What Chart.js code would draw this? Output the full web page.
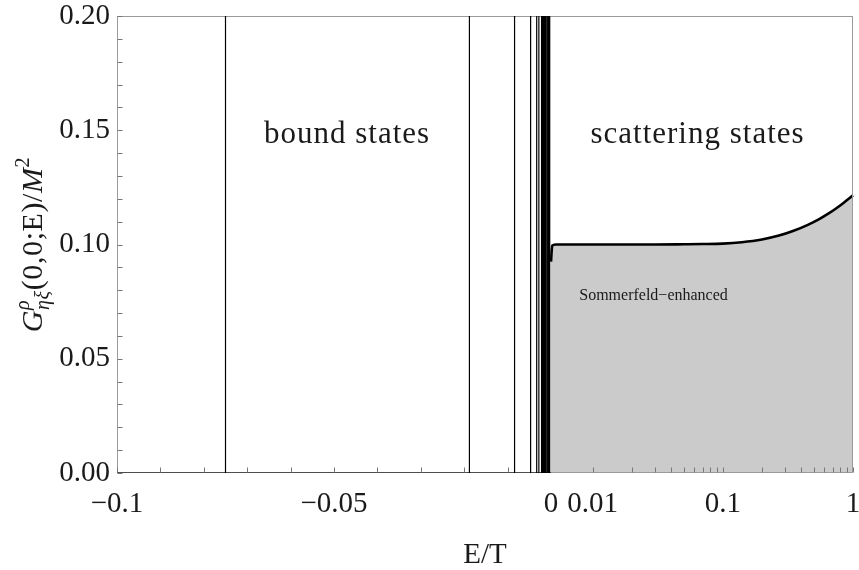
<!DOCTYPE html>
<html><head><meta charset="utf-8">
<script src="https://cdn.jsdelivr.net/npm/chart.js@4.4.1/dist/chart.umd.min.js"></script>
<style>html,body{margin:0;padding:0;background:#fff;}canvas{display:block;}</style>
</head><body>
<canvas id="chart" width="859" height="570"></canvas>
<script>
// ---------------- data ----------------
const boundStateE = [-0.075, -0.0188, -0.0084, -0.0047, -0.0033, -0.0028, -0.0023, -0.0021, -0.0019,
                     -0.0017, -0.0015, -0.0013, -0.0011, -0.0009, -0.0007, -0.0005, -0.0003];
const sommerfeldE = [0.0048, 0.0049, 0.0052, 0.006, 0.008, 0.01, 0.015, 0.02, 0.03, 0.05, 0.07, 0.1,
                     0.14, 0.2, 0.27, 0.35, 0.45, 0.55, 0.65, 0.75, 0.85, 1.0];
const sommerfeldG = [0.0925, 0.0995, 0.1, 0.1, 0.1, 0.1, 0.1, 0.1, 0.1, 0.1001, 0.1002, 0.1004,
                     0.101, 0.1022, 0.1039, 0.106, 0.1086, 0.1111, 0.1136, 0.116, 0.1183, 0.1215];
const xTickValues = [-0.1, -0.09, -0.08, -0.07, -0.06, -0.05, -0.04, -0.03, -0.02, -0.01, 0,
                     0.01, 0.02, 0.03, 0.04, 0.05, 0.06, 0.07, 0.08, 0.09,
                     0.1, 0.2, 0.3, 0.4, 0.5, 0.6, 0.7, 0.8, 0.9, 1];
const xLabelValues = [-0.1, -0.05, 0, 0.01, 0.1, 1];
const xLabelTexts = ['\u22120.1', '\u22120.05', '0', '0.01', '0.1', '1'];
const yTickValues = [0, 0.01, 0.02, 0.03, 0.04, 0.05, 0.06, 0.07, 0.08, 0.09, 0.1,
                     0.11, 0.12, 0.13, 0.14, 0.15, 0.16, 0.17, 0.18, 0.19, 0.2];
const yLabelValues = [0, 0.05, 0.1, 0.15, 0.2];
const yLabelTexts = ['0.00', '0.05', '0.10', '0.15', '0.20'];
const regionTexts = ['bound states', 'scattering states', 'Sommerfeld\u2212enhanced'];
const regionE = [-0.047, 0.064, 0.0294];
const regionG = [0.1445, 0.1445, 0.0755];
const xTitle = 'E/T';

// ---------------- split axis: linear for E<=0, log for E>0 ----------------
const X_LIN_MIN = -0.1, X_LOG_MIN = 0.0048, X_LOG_MAX = 1, LIN_SHARE = 0.5897;
function splitDecimal(v) {
  if (v <= 0) return (v - X_LIN_MIN) / (0 - X_LIN_MIN) * LIN_SHARE;
  const lv = Math.max(v, X_LOG_MIN);
  return LIN_SHARE + (Math.log10(lv) - Math.log10(X_LOG_MIN)) /
         (Math.log10(X_LOG_MAX) - Math.log10(X_LOG_MIN)) * (1 - LIN_SHARE);
}
function splitValue(d) {
  if (d <= LIN_SHARE) return X_LIN_MIN + d / LIN_SHARE * (0 - X_LIN_MIN);
  const f = (d - LIN_SHARE) / (1 - LIN_SHARE);
  return Math.pow(10, Math.log10(X_LOG_MIN) + f * (Math.log10(X_LOG_MAX) - Math.log10(X_LOG_MIN)));
}
class SplitScale extends Chart.Scale {
  determineDataLimits() { this.min = X_LIN_MIN; this.max = X_LOG_MAX; }
  buildTicks() { return xTickValues.map(v => ({value: v})); }
  getLabelForValue(v) { return String(v); }
  getPixelForValue(v) { return this.getPixelForDecimal(splitDecimal(v)); }
  getPixelForTick(i) { return this.getPixelForValue(this.ticks[i].value); }
  getValueForPixel(p) { return splitValue(this.getDecimalForPixel(p)); }
}
SplitScale.id = 'split';
SplitScale.defaults = {};
Chart.register(SplitScale);

function lookup(vals, texts, v) {
  const i = vals.findIndex(a => Math.abs(a - v) < 1e-9);
  return i < 0 ? '' : texts[i];
}

// bound-state spectrum: zero line with delta spikes
const boundData = [{x: X_LIN_MIN, y: 0}];
boundStateE.slice().sort((a, b) => a - b).forEach(e => {
  boundData.push({x: e, y: 0}, {x: e, y: 0.2}, {x: e, y: 0});
});
boundData.push({x: 0, y: 0});

const SERIF = '"Liberation Serif", "DejaVu Serif", serif';
const FRAME = '#9a9a9a';

const framePlugin = {
  id: 'frame',
  beforeDatasetsDraw(chart) {
    const {ctx, chartArea: a} = chart;
    ctx.save();
    ctx.strokeStyle = FRAME; ctx.lineWidth = 1;
    ctx.strokeRect(Math.round(a.left) + 0.5, Math.round(a.top) + 0.5,
                   Math.round(a.right) - Math.round(a.left) - 1, Math.round(a.bottom) - Math.round(a.top) - 1);
    ctx.restore();
  },
  afterDatasetsDraw(chart) {
    const {ctx, chartArea: a, scales: {x, y}} = chart;
    ctx.save();
    ctx.strokeStyle = FRAME; ctx.lineWidth = 1;
    const L = Math.round(a.left) + 0.5, R = Math.round(a.right) - 0.5, B = Math.round(a.bottom) - 0.5;
    ctx.beginPath();
    ctx.moveTo(Math.round(x.getPixelForValue(0)), B); ctx.lineTo(R, B);
    ctx.moveTo(R, Math.round(a.top)); ctx.lineTo(R, B);
    ctx.stroke();
    ctx.strokeStyle = '#777';
    ctx.beginPath();
    x.ticks.forEach(t => {
      if (t.value === 0) return;
      const px = Math.round(x.getPixelForValue(t.value)) + 0.5;
      ctx.moveTo(px, B); ctx.lineTo(px, B - 5);
    });
    y.ticks.forEach(t => {
      const py = Math.round(y.getPixelForValue(t.value)) + 0.5;
      ctx.moveTo(L, py); ctx.lineTo(L + 5, py);
    });
    ctx.stroke();
    ctx.restore();
  }
};

const regionPlugin = {
  id: 'regions',
  afterDatasetsDraw(chart) {
    const {ctx, scales: {x, y}} = chart;
    ctx.save();
    ctx.fillStyle = '#1a1a1a';
    ctx.textAlign = 'center'; ctx.textBaseline = 'alphabetic';
    regionTexts.forEach((t, i) => {
      const small = i === 2;
      ctx.font = (small ? '16px ' : '31px ') + SERIF;
      try { ctx.letterSpacing = small ? '0px' : '1px'; } catch (e) {}
      ctx.fillText(t, x.getPixelForValue(regionE[i]), y.getPixelForValue(regionG[i]));
    });
    ctx.restore();
  }
};

const yTitlePlugin = {
  id: 'ytitle',
  afterDraw(chart) {
    const {ctx, chartArea: a} = chart;
    const big = 30, small = 20;
    const parts = [
      {t: 'G', f: 'italic ' + big + 'px ' + SERIF, dy: 0},
      {t: '\u03C1', f: 'italic ' + small + 'px ' + SERIF, dy: -13, stack: true},
      {t: '\u03B7\u03BE', f: 'italic ' + small + 'px ' + SERIF, dy: 7},
      {t: '(0,0;E)/', f: big + 'px ' + SERIF, dy: 0},
      {t: 'M', f: 'italic ' + big + 'px ' + SERIF, dy: 0},
      {t: '2', f: small + 'px ' + SERIF, dy: -13}
    ];
    ctx.save();
    try { ctx.letterSpacing = '0.6px'; } catch (e) {}
    let total = 0; const widths = [];
    parts.forEach(p => { ctx.font = p.f; const w = ctx.measureText(p.t).width; widths.push(w); if (!p.stack) total += w; });
    ctx.translate(42, (a.top + a.bottom) / 2);
    ctx.rotate(-Math.PI / 2);
    ctx.fillStyle = '#1a1a1a'; ctx.textBaseline = 'alphabetic'; ctx.textAlign = 'left';
    let cx = -total / 2;
    parts.forEach((p, i) => {
      ctx.font = p.f;
      ctx.fillText(p.t, cx, p.dy);
      if (!p.stack) cx += widths[i];
    });
    ctx.restore();
  }
};

new Chart(document.getElementById('chart'), {
  type: 'line',
  data: {
    datasets: [
      {
        label: 'Sommerfeld-enhanced',
        data: sommerfeldE.map((e, i) => ({x: e, y: sommerfeldG[i]})),
        borderColor: '#000', borderWidth: 2.6, backgroundColor: '#cbcbcb',
        fill: 'origin', pointRadius: 0, cubicInterpolationMode: 'monotone', order: 2
      },
      {
        label: 'bound states',
        data: boundData,
        borderColor: '#000', borderWidth: 1.2, pointRadius: 0, fill: false, tension: 0, order: 1
      }
    ]
  },
  options: {
    responsive: false, animation: false, devicePixelRatio: 1,
    layout: {padding: {top: 16, right: 6, left: 0, bottom: 0}},
    plugins: {legend: {display: false}, tooltip: {enabled: false}},
    scales: {
      x: {
        type: 'split', position: 'bottom',
        grid: {display: false, drawTicks: false}, border: {display: false},
        ticks: {autoSkip: false, maxRotation: 0, minRotation: 0, padding: 14, color: '#1a1a1a',
                font: {family: SERIF, size: 29},
                callback: v => lookup(xLabelValues, xLabelTexts, v)},
        title: {display: true, text: xTitle, color: '#1a1a1a', font: {family: SERIF, size: 29, lineHeight: 1.0},
                padding: {top: 0, bottom: 0}},
        afterFit(s) { s.height = 97; s.paddingLeft = 0; s.paddingRight = 0; }
      },
      y: {
        type: 'linear', min: 0, max: 0.2,
        grid: {display: false, drawTicks: false}, border: {display: false},
        afterBuildTicks(s) { s.ticks = yTickValues.map(v => ({value: v})); },
        ticks: {autoSkip: false, padding: 7, color: '#1a1a1a', font: {family: SERIF, size: 29},
                callback: v => lookup(yLabelValues, yLabelTexts, v)},
        afterFit(s) { s.width = 117; s.paddingTop = 0; s.paddingBottom = 0; }
      }
    }
  },
  plugins: [framePlugin, regionPlugin, yTitlePlugin]
});
</script>
</body></html>
